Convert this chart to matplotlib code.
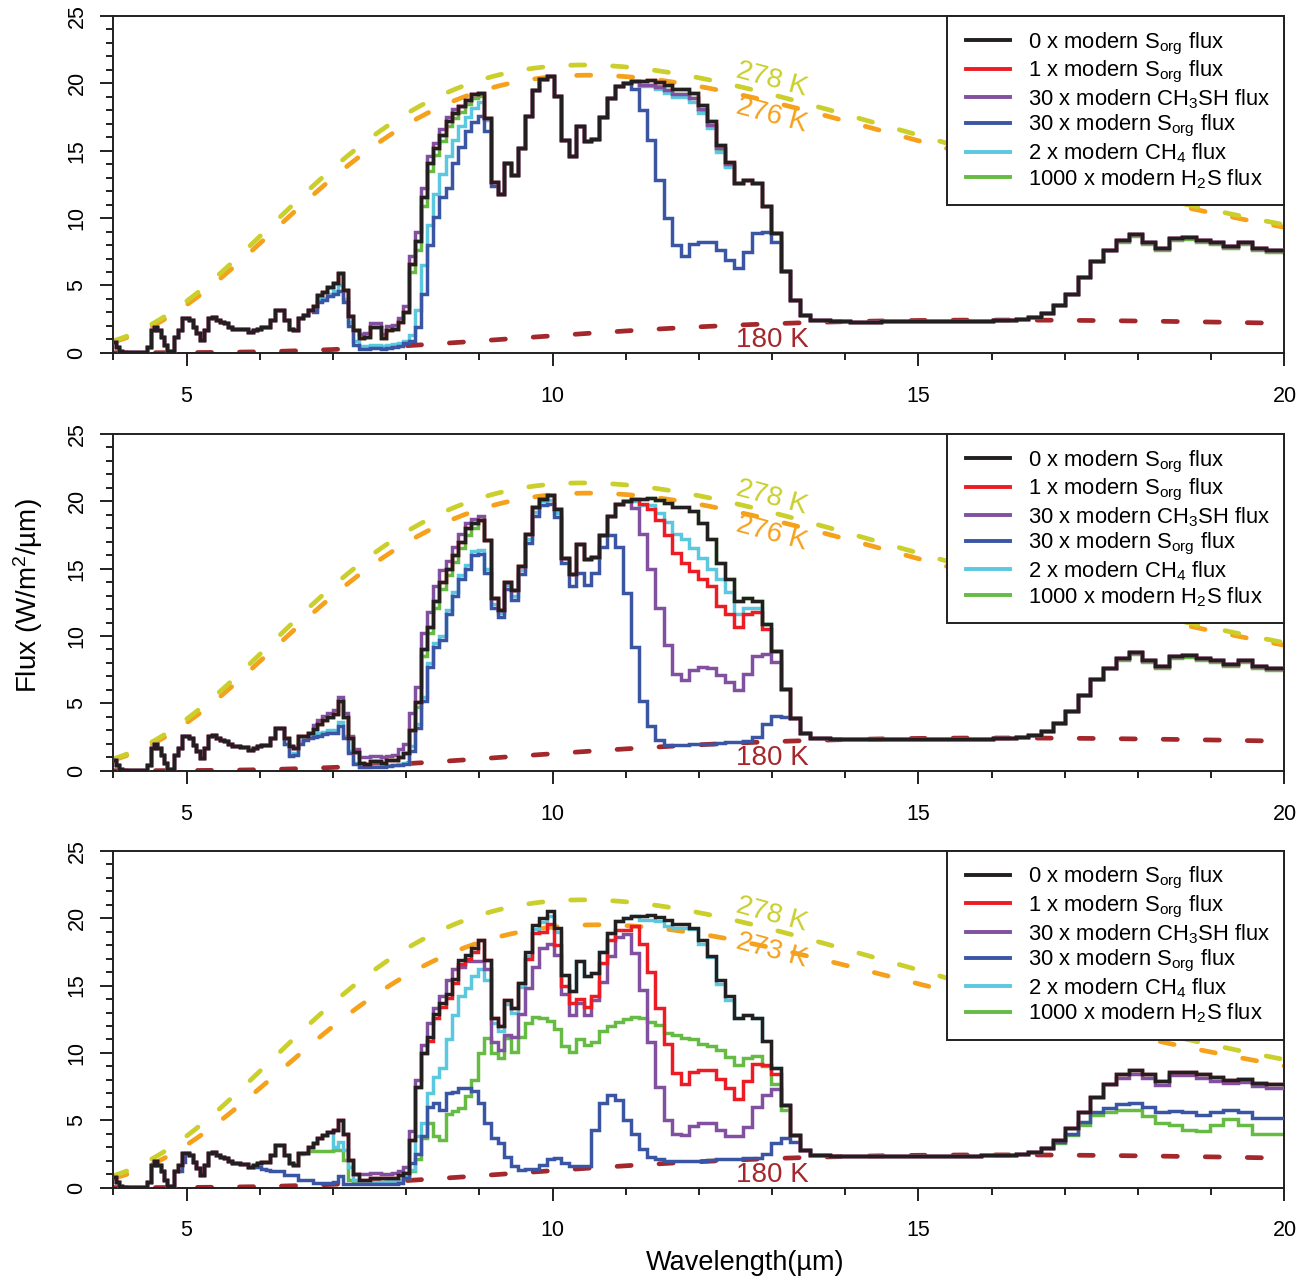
import numpy as np
import matplotlib
matplotlib.use('Agg')
import matplotlib.pyplot as plt
from matplotlib.ticker import MultipleLocator
from matplotlib.lines import Line2D
from matplotlib.legend_handler import HandlerLine2D

plt.rcParams['font.family'] = ['Liberation Sans', 'DejaVu Sans']
plt.rcParams['mathtext.fontset'] = 'custom'
plt.rcParams['mathtext.rm'] = 'Liberation Sans'
plt.rcParams['mathtext.it'] = 'Liberation Sans:italic'
plt.rcParams['mathtext.bf'] = 'Liberation Sans:bold'

# spectral bins, resolving power ~100 starting at 4 um
n_bins = 162
edges = 4.0 * 1.01003 ** np.arange(n_bins + 1)


def patch(base, start, vals):
    """copy of base with bins start.. replaced by vals"""
    out = np.array(base, dtype=float)
    out[start:start + len(vals)] = vals
    return out


# ---- emission spectra (W/m^2/um), one value per bin ----
black_top = np.array([
    0.8, 0.4, 0.15, 0.05, 0.05, 0.05, 0.05, 0.05, 0.05, 0.05,
    0.05, 0.45, 1.7, 1.95, 1.7, 1.2, 0.6, 0.1, 0.05, 1.2,
    1.7, 2.55, 2.6, 2.4, 1.9, 1.45, 0.95, 1.7, 2.55, 2.65,
    2.4, 2.3, 2.2, 1.95, 1.8, 1.8, 1.75, 1.75, 1.55, 1.7,
    1.8, 1.9, 1.9, 2.4, 3.2, 3.2, 2.4, 1.8, 1.7, 2.55,
    2.8, 3.2, 3.5, 4.3, 4.5, 4.9, 5.15, 5.9, 4.65, 2.7,
    1.7, 1.1, 1.2, 1.9, 1.9, 1.1, 1.7, 1.8, 2.3, 3.0,
    6.6, 8.3, 11.6, 14.1, 15.2, 16.2, 17.2, 17.8, 18.3, 18.8,
    19.2, 19.3, 17.4, 12.7, 11.8, 14.1, 13.2, 15.2, 17.6, 19.5,
    20.3, 20.55, 19.1, 15.8, 14.6, 16.8, 15.7, 15.9, 17.5, 18.9,
    19.8, 20.05, 20.2, 20.2, 20.25, 20.1, 19.9, 19.6, 19.6, 19.3,
    18.4, 17.2, 15.4, 14.2, 12.6, 12.8, 12.6, 10.9, 8.9, 6.1,
    3.9, 2.8, 2.45, 2.4, 2.35, 2.33, 2.32, 2.32, 2.32, 2.33,
    2.33, 2.34, 2.34, 2.35, 2.35, 2.36, 2.37, 2.38, 2.39, 2.4,
    2.42, 2.48, 2.68, 2.93, 3.55, 4.4, 5.6, 6.8, 7.6, 8.4,
    8.8, 8.25, 7.8, 8.55, 8.6, 8.4, 8.2, 7.95, 8.2, 7.8,
    7.6, 7.6,
])

green_tail = [8.25, 8.65, 8.1, 7.65, 8.4, 8.45, 8.25, 8.05, 7.8, 8.05,
              7.65, 7.45, 7.45]

# top panel
red_top = black_top.copy()
purple_top = patch(black_top, 61, [1.4, 1.5, 2.2, 2.2, 1.4, 2.0, 2.1, 2.6, 3.5,
                                   7.2, 9.0, 12.2, 14.6, 15.6, 16.6, 17.5, 18.1])
purple_top = patch(purple_top, 103, [19.9, 19.9, 19.7, 19.5, 19.2, 19.2, 18.9,
                                     18.1, 16.9, 15.2, 14.0])
green_top = patch(black_top, 70, [6.0, 7.6, 10.9, 13.5, 14.7, 15.7, 16.8, 17.4,
                                  17.9, 18.5, 18.9, 19.1])
green_top = patch(green_top, 103, [19.9, 19.9, 19.8, 19.5, 19.2, 19.2, 18.9,
                                   18.0, 16.9, 15.1, 13.9])
green_top = patch(green_top, 149, green_tail)
cyan_top = patch(black_top, 52, [3.2, 4.0, 4.1, 4.4, 4.6, 5.0, 4.0, 2.3, 0.9, 0.5,
                                 0.5, 0.55, 0.55, 0.5, 0.6, 0.65, 0.75, 0.9, 1.3, 3.2,
                                 6.5, 9.5, 11.8, 13.3, 14.6, 15.8, 16.8, 17.5, 18.2,
                                 18.6, 17.3])
cyan_top = patch(cyan_top, 103, [19.8, 19.8, 19.6, 19.3, 19.0, 19.0, 18.6, 17.8,
                                 16.7, 14.9, 13.8])
blue_top = patch(black_top, 52, [3.0, 3.8, 3.9, 4.2, 4.4, 4.6, 3.8, 2.0, 0.6, 0.3,
                                 0.3, 0.35, 0.35, 0.3, 0.35, 0.4, 0.5, 0.7, 0.9, 1.9,
                                 4.4, 8.0, 10.1, 11.6, 12.2, 14.1, 15.3, 16.5, 17.1,
                                 17.6, 16.5, 12.4])
blue_top = patch(blue_top, 102, [19.6, 18.0, 15.8, 12.8, 10.0, 8.0, 7.2, 8.1, 8.25,
                                 8.25, 7.6, 6.9, 6.3, 7.5, 8.9, 9.0, 8.2])

# middle panel
black_mid = patch(black_top, 50, [2.6, 2.8, 3.1, 3.5, 3.75, 4.0, 4.2, 5.2, 4.0, 2.4,
                                  1.4, 0.6, 0.5, 0.7, 0.7, 0.6, 0.8, 0.8, 1.0, 1.3,
                                  3.0, 5.1, 9.0, 10.7, 12.6, 14.0, 15.0, 16.0, 17.0,
                                  18.0, 18.4, 18.6, 17.1, 12.8, 11.9, 14.0, 13.4, 15.2,
                                  17.6, 19.6, 20.2, 20.5, 19.4])
red_mid = patch(black_mid, 103, [19.8, 19.4, 18.6, 17.5, 16.2, 15.4, 14.8, 14.2,
                                 13.7, 12.2, 11.6, 10.7, 11.6, 11.8, 10.5])
purple_mid = patch(black_mid, 52, [3.4, 3.8, 4.05, 4.3, 4.5, 5.5, 4.3, 2.6, 1.6, 1.0,
                                   1.0, 1.1, 1.1, 1.0, 1.1, 1.2, 1.6, 2.0, 4.3, 6.2,
                                   10.2, 11.8, 13.7, 14.9, 15.6, 16.6, 17.6, 18.4,
                                   18.7, 18.9])
purple_mid = patch(purple_mid, 102, [19.5, 17.6, 15.0, 12.1, 9.3, 7.2, 6.7, 7.5, 7.7,
                                     7.6, 7.1, 6.6, 6.0, 7.2, 8.5, 8.7, 8.1])
green_mid = patch(black_mid, 71, [4.7, 8.5, 10.2, 12.1, 13.5, 14.5, 15.5, 16.5,
                                  17.5, 18.0])
green_mid = patch(green_mid, 149, green_tail)
cyan_mid = patch(black_mid, 46, [2.0, 1.2, 1.3, 2.2, 2.5, 2.6, 2.7, 2.8, 2.9, 3.0,
                                 3.0, 3.6, 2.6, 1.5, 0.6, 0.3, 0.3, 0.35, 0.35, 0.35,
                                 0.4, 0.45, 0.5, 0.55, 1.8, 3.5, 5.5, 8.0, 9.5, 10.0,
                                 11.9, 13.3, 14.5, 15.3, 16.3, 16.4, 15.0, 12.4, 11.7,
                                 13.8, 13.0, 14.9, 17.2, 19.2, 20.0, 20.1, 19.1])
cyan_mid = patch(cyan_mid, 102, [20.0, 19.7, 19.7, 19.1, 18.5, 17.6, 17.2, 16.5,
                                 15.8, 15.0, 14.2, 13.3, 11.6, 12.1, 12.1])
blue_mid = patch(black_mid, 46, [2.0, 1.1, 1.2, 2.0, 2.3, 2.4, 2.5, 2.6, 2.7, 2.8,
                                 2.8, 3.3, 2.4, 1.3, 0.5, 0.25, 0.25, 0.3, 0.3, 0.3,
                                 0.35, 0.4, 0.45, 0.5, 1.5, 3.2, 5.2, 7.7, 9.2, 9.7,
                                 11.6, 13.0, 14.2, 15.0, 16.0, 16.1, 14.7, 12.1, 11.4,
                                 13.5, 12.7, 14.6, 16.9, 18.9, 19.7, 19.8, 18.8,
                                 15.4, 13.7, 14.7, 13.8, 14.7, 16.6, 17.5, 16.6, 13.2,
                                 9.2, 5.2, 3.3, 2.3, 1.9, 1.9, 1.9, 1.95, 2.0, 2.0,
                                 2.05, 2.1, 2.1, 2.2, 2.5, 3.5, 4.1, 4.0])

# bottom panel
black_bot = patch(black_mid, 50, [2.6, 3.0, 3.3, 3.7, 3.9, 4.1, 4.3, 5.0, 4.0, 2.05,
                                  1.0, 0.6, 0.6, 0.7, 0.7, 0.7, 0.7, 0.75, 0.95, 1.1,
                                  3.5, 7.5, 10.0, 11.2, 12.9, 13.7, 14.4, 15.5, 16.9,
                                  17.3, 17.8, 18.4, 16.9, 12.6, 12.0, 13.9, 13.3, 15.2,
                                  17.5, 19.5, 20.0, 20.5, 19.3])
black_bot = patch(black_bot, 141, [2.5, 2.67, 2.92, 3.54, 4.4, 5.65, 6.75, 7.7, 8.4,
                                   8.7, 8.4, 7.9, 8.6, 8.6, 8.4, 8.2, 8.0, 8.1, 7.8,
                                   7.7, 7.7])
red_bot = patch(black_bot, 73, [10.9, 12.6, 13.4, 14.1, 15.2, 16.6, 17.0, 17.5])
red_bot = patch(red_bot, 88, [17.0, 18.9, 19.0, 19.6, 18.0, 15.0, 13.7, 14.0, 13.4,
                              14.2, 16.7, 18.4, 19.1, 19.1, 19.4, 18.1, 16.0, 13.3,
                              10.7, 8.5, 7.7, 8.6, 8.7, 8.7, 8.1, 7.4, 6.6, 7.9, 9.2,
                              9.1, 8.4])
purple_bot = patch(black_bot, 61, [1.0, 1.0, 1.1, 1.1, 1.0, 1.0, 1.05, 1.2])
purple_bot = patch(purple_bot, 69, [1.5, 4.2, 8.0, 10.6, 12.2, 13.3, 14.2, 15.4, 16.2,
                                    16.4, 16.8, 16.8, 16.8, 16.2, 10.8, 10.2, 11.3,
                                    11.2, 12.9, 14.8, 16.4, 17.8, 18.1, 17.3, 14.4,
                                    12.8, 13.7, 12.8, 13.9, 15.3, 17.2, 18.6, 18.8,
                                    17.4, 14.7, 10.8, 7.5, 5.0, 4.0, 3.9, 4.6, 4.8, 4.8,
                                    4.3, 3.8, 3.8, 4.5, 6.0, 6.9, 7.3])
purple_bot = patch(purple_bot, 149, [8.15, 8.45, 8.15, 7.65, 8.35, 8.35, 8.15, 7.95,
                                     7.75, 7.85, 7.55, 7.4, 7.4])
cyan_bot = patch(black_bot, 56, [3.0, 3.4, 2.8, 1.5, 0.6, 0.4, 0.4, 0.45, 0.45, 0.45,
                                 0.5, 0.5, 0.6, 0.8, 1.3, 3.8, 4.8, 7.0, 8.2, 8.9,
                                 11.0, 12.8, 14.2, 14.8, 15.7, 16.2, 15.4, 12.2, 11.6,
                                 13.6, 13.0, 14.9, 17.2, 19.2, 19.7, 20.2, 19.0])
cyan_bot = patch(cyan_bot, 103, [19.9, 19.9, 19.8, 19.4, 19.3, 19.3, 19.2, 18.1,
                                 17.1, 15.1, 13.9])
green_bot = patch(black_bot, 49, [2.5, 2.6, 2.7, 2.7, 2.7, 2.7, 2.75, 2.8, 2.8, 2.05,
                                  0.6, 0.45, 0.45, 0.45, 0.45, 0.45, 0.45, 0.45, 0.5,
                                  0.55])
green_bot = patch(green_bot, 69, [0.7, 1.2, 2.1, 3.7, 4.8, 3.8, 3.5, 5.5, 5.7, 5.9,
                                  6.8, 8.0, 10.0, 11.1, 10.0, 9.6, 11.1, 10.1, 11.2,
                                  12.2, 12.7, 12.6, 12.4, 11.8, 10.5, 10.1, 11.0, 10.6,
                                  10.8, 11.6, 12.0, 12.3, 12.5, 12.7, 12.6, 12.3, 12.1,
                                  11.5, 11.3, 11.1, 11.0, 10.7, 10.5, 10.2, 9.7, 9.1,
                                  9.6, 9.8, 9.0, 7.7, 5.8])
green_bot = patch(green_bot, 144, [3.3, 3.9, 4.65, 5.4, 5.65, 5.8, 5.8, 5.3, 4.8,
                                   4.65, 4.3, 4.2, 4.65, 5.1, 4.65, 4.0, 4.0, 4.0])
blue_bot = patch(black_bot, 20, [1.2, 1.9])
blue_bot = patch(blue_bot, 39, [1.55, 1.55, 1.4, 1.3, 1.2, 1.2, 1.2, 0.95, 0.95, 0.95,
                                0.6, 0.6, 0.55, 0.35, 0.32, 0.32, 0.32, 0.45, 0.9, 0.3,
                                0.3, 0.3, 0.3, 0.3, 0.3, 0.3, 0.3, 0.3, 0.3, 0.35])
blue_bot = patch(blue_bot, 69, [0.7, 1.8, 2.5, 3.8, 6.0, 6.3, 5.8, 7.0, 7.1, 7.4,
                                7.4, 7.2, 6.3, 4.8, 3.7, 3.3, 2.3, 1.6, 1.3, 1.4, 1.4,
                                1.7, 2.1, 2.2, 1.8, 1.6, 1.6, 1.6, 4.3, 6.3, 6.9, 6.5,
                                5.0, 4.0, 2.9, 2.3, 2.1, 2.0, 1.95, 1.95, 2.0, 2.0,
                                2.05, 2.1, 2.1, 2.15, 2.2, 2.2, 2.5, 3.3, 3.7, 3.4])
blue_bot = patch(blue_bot, 144, [3.4, 4.0, 4.9, 5.6, 5.9, 6.2, 6.3, 6.0, 5.6, 5.7,
                                 5.6, 5.4, 5.6, 5.8, 5.6, 5.2, 5.15, 5.15])

labels = [r'0 x modern S$_{\rm org}$ flux',
          r'1 x modern S$_{\rm org}$ flux',
          r'30 x modern CH$_3$SH flux',
          r'30 x modern S$_{\rm org}$ flux',
          r'2 x modern CH$_4$ flux',
          r'1000 x modern H$_2$S flux']
colors = ['#231f20', '#ed1c24', '#8150a0', '#3a55a4', '#5bc8e0', '#66bb44']

panels = [
    ([black_top, red_top, purple_top, blue_top, cyan_top, green_top], 276),
    ([black_mid, red_mid, purple_mid, blue_mid, cyan_mid, green_mid], 276),
    ([black_bot, red_bot, purple_bot, blue_bot, cyan_bot, green_bot], 273),
]
t_hot = 278
t_cold = 180


def planck_flux(wl_um, temp):
    # pi * B_lambda in W m^-2 um^-1
    c1 = 3.7418e8
    c2 = 14387.77
    return c1 / wl_um ** 5 / (np.exp(c2 / (wl_um * temp)) - 1.0)


bb_colors = {'hot': '#cacf2c', 'warm': '#f6a11c', 'cold': '#a3272b'}
wl = np.linspace(4, 20, 400)

fig = plt.figure(figsize=(13.12, 12.82), dpi=100)
bottoms = [0.7248, 0.3988, 0.0736]

for (series, t_surf), bottom in zip(panels, bottoms):
    ax = fig.add_axes([0.0864, bottom, 0.8926, 0.2627])

    # blackbody reference curves
    dash_kw = dict(lw=3.4, dashes=(3.0, 5.9), dash_capstyle='round', zorder=1)
    ax.plot(wl, planck_flux(wl, t_cold), color=bb_colors['cold'], **dash_kw)
    ax.plot(wl, planck_flux(wl, t_surf), color=bb_colors['warm'], **dash_kw)
    ax.plot(wl, planck_flux(wl, t_hot), color=bb_colors['hot'], **dash_kw)

    handles = []
    for vals, col, lab in zip(series, colors, labels):
        h = ax.stairs(vals, edges, baseline=None, color=col, lw=2.5, label=lab)
        handles.append(h)
    # draw order: black on top
    for z, h in enumerate(reversed(handles)):
        h.set_zorder(2 + z)

    ax.text(13.0, 20.25, f'{t_hot} K', color=bb_colors['hot'], fontsize=20,
            rotation=-15, ha='center', va='center')
    ax.text(13.0, 17.6, f'{t_surf} K', color=bb_colors['warm'], fontsize=20,
            rotation=-15, ha='center', va='center')
    ax.text(13.0, 0.95, f'{t_cold} K', color=bb_colors['cold'], fontsize=20,
            ha='center', va='center')

    ax.set_xlim(4, 20)
    ax.set_ylim(0, 25)
    ax.xaxis.set_major_locator(MultipleLocator(5))
    ax.xaxis.set_minor_locator(MultipleLocator(1))
    ax.yaxis.set_major_locator(MultipleLocator(5))
    ax.yaxis.set_minor_locator(MultipleLocator(1))
    ax.tick_params(which='major', direction='out', length=9.6, width=1.4,
                   labelsize=15.5, color='#231f20')
    ax.tick_params(which='minor', direction='out', length=4.8, width=1.4,
                   color='#231f20')
    ax.tick_params(axis='x', which='major', pad=14)
    ax.tick_params(axis='y', which='major', pad=9)
    for lbl in ax.get_yticklabels():
        lbl.set_rotation(90)
        lbl.set_va('center')
    for sp in ax.spines.values():
        sp.set_linewidth(1.4)
        sp.set_color('#231f20')

    leg_handles = [Line2D([], [], color=c, lw=2.8) for c in colors]
    leg = ax.legend(leg_handles, labels, loc='upper right', fontsize=15.8,
                    frameon=True, fancybox=False, framealpha=1,
                    edgecolor='#231f20', borderaxespad=0, borderpad=0.66,
                    handlelength=2.2, handletextpad=0.8, labelspacing=0.1,
                    handler_map={Line2D: HandlerLine2D(xpad=0.2)})
    leg.get_frame().set_linewidth(1.4)
    leg.set_zorder(20)

fig.text(28 / 1312, 0.535, r'Flux (W/m$^2$/µm)', rotation=90, fontsize=20,
         ha='center', va='center')
fig.text(745 / 1312, 0.0148, 'Wavelength(µm)', fontsize=19.5,
         ha='center', va='center')

fig.savefig('out.png', dpi=100)
